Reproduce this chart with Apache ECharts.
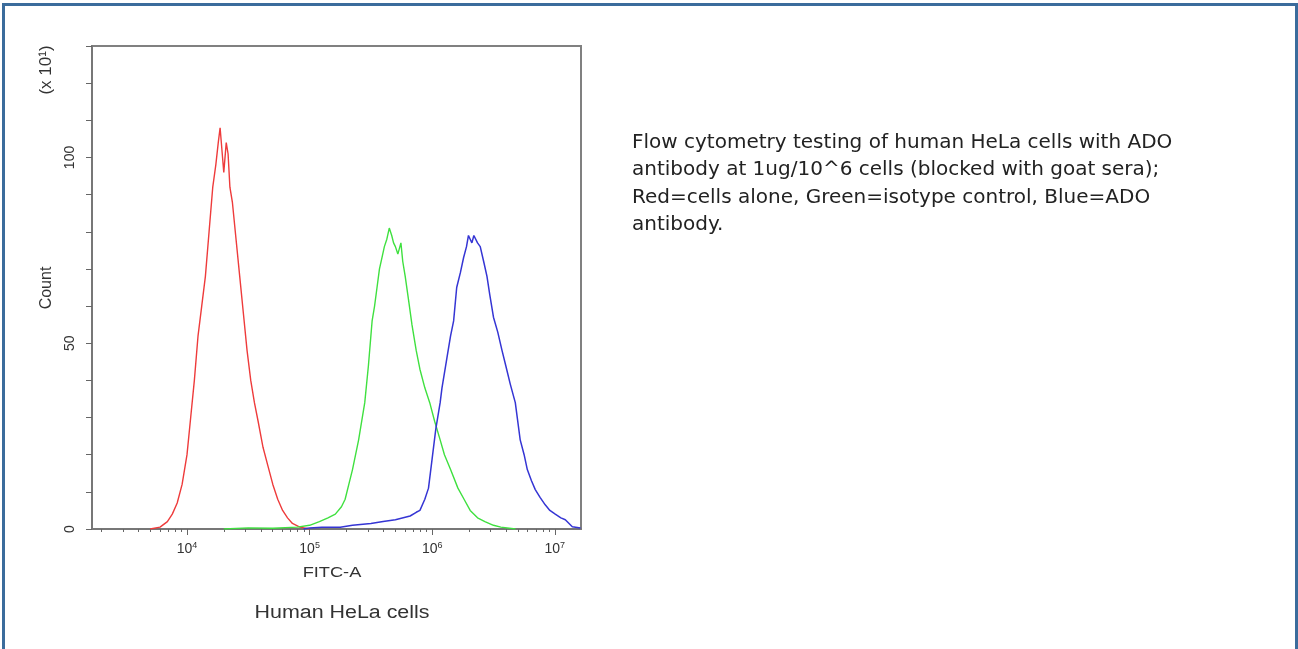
<!DOCTYPE html>
<html>
<head>
<meta charset="utf-8">
<script src="https://cdn.jsdelivr.net/npm/echarts@6/dist/echarts.min.js"></script>
<style>
  html, body { margin: 0; padding: 0; background: #fff; }
  #frame {
    position: absolute; left: 2px; top: 3px; width: 1290px; height: 660px;
    border: 3px solid #3b6c9c; border-bottom: none;
  }
  #chart { position: absolute; left: 0; top: 0; width: 1298px; height: 649px; }
</style>
</head>
<body>
<div id="frame"></div>
<div id="chart"></div>
<script>
  // x values are log10(FITC-A), y values are counts (x10^1)
  var redPoints = [
    [3.70, 0], [3.78, 0.5], [3.84, 2], [3.88, 4], [3.92, 7], [3.96, 12], [4.00, 20],
    [4.03, 30], [4.06, 40], [4.09, 52], [4.12, 60], [4.15, 68], [4.18, 80], [4.21, 92],
    [4.235, 98], [4.255, 104], [4.27, 108], [4.29, 100], [4.30, 96], [4.32, 104],
    [4.335, 101], [4.35, 92], [4.37, 88], [4.40, 78], [4.43, 68], [4.46, 58], [4.49, 48],
    [4.52, 40], [4.55, 34], [4.58, 29], [4.62, 22], [4.66, 17], [4.70, 12], [4.74, 8],
    [4.78, 5], [4.82, 3], [4.86, 1.5], [4.92, 0.5], [5.00, 0]
  ]
  var greenPoints = [
    [4.30, 0], [4.50, 0.3], [4.70, 0.2], [4.90, 0.5], [5.00, 1], [5.08, 2], [5.15, 3],
    [5.21, 4], [5.26, 6], [5.29, 8], [5.32, 12], [5.35, 16], [5.40, 24], [5.45, 34],
    [5.48, 44], [5.51, 56], [5.53, 60], [5.55, 65], [5.57, 70], [5.59, 73], [5.61, 76],
    [5.63, 78], [5.65, 81], [5.67, 79], [5.685, 77], [5.70, 76], [5.72, 74], [5.745, 77],
    [5.76, 72], [5.78, 68], [5.81, 61], [5.835, 55], [5.87, 48], [5.90, 43], [5.94, 38],
    [5.98, 34], [6.02, 29], [6.065, 24], [6.10, 20], [6.15, 16], [6.21, 11], [6.26, 8],
    [6.31, 5], [6.37, 3], [6.43, 2], [6.50, 1], [6.56, 0.5], [6.68, 0]
  ]
  var bluePoints = [
    [4.95, 0], [5.00, 0.3], [5.10, 0.5], [5.25, 0.5], [5.35, 1], [5.50, 1.5], [5.60, 2],
    [5.70, 2.5], [5.82, 3.5], [5.87, 4.5], [5.90, 5], [5.94, 8], [5.97, 11], [6.00, 19],
    [6.03, 27], [6.065, 34], [6.08, 38], [6.12, 46], [6.15, 52], [6.175, 56], [6.20, 65],
    [6.23, 69], [6.256, 73], [6.28, 76], [6.296, 79], [6.31, 78], [6.324, 77], [6.34, 79],
    [6.351, 79], [6.37, 77], [6.392, 76], [6.42, 72], [6.447, 68], [6.47, 63], [6.50, 57],
    [6.535, 53], [6.57, 48], [6.60, 44], [6.637, 39], [6.678, 34], [6.718, 24], [6.75, 20],
    [6.776, 16], [6.81, 13], [6.841, 10.6], [6.88, 8.5], [6.922, 6.5], [6.96, 5],
    [7.004, 4], [7.05, 3], [7.086, 2.5], [7.143, 0.6], [7.21, 0.3]
  ]
  var xDecades = [4, 5, 6, 7]
  var yLabels = [0, 50, 100]
  var caption = 'Flow cytometry testing of human HeLa cells with ADO\n' +
    'antibody at 1ug/10^6 cells (blocked with goat sera);\n' +
    'Red=cells alone, Green=isotype control, Blue=ADO\n' +
    'antibody.'

  var xMin = 3.225
  var xMax = 7.214
  var minorTicks = []
  for (var d = 3; d <= 7; d++) {
    for (var k = 2; k <= 9; k++) {
      var t = d + Math.log10(k)
      if (t > xMin && t < xMax) minorTicks.push(t)
    }
  }

  var font = 'Liberation Sans'
  var chart = echarts.init(document.getElementById('chart'))
  chart.setOption({
    animation: false,
    backgroundColor: 'transparent',
    grid: {
      left: 92, right: 717, top: 46, bottom: 120,
      show: true, borderColor: '#808080', borderWidth: 2
    },
    xAxis: [
      {
        type: 'value', min: xMin, max: xMax, position: 'bottom',
        axisLine: { lineStyle: { color: '#777', width: 2 } },
        axisTick: { customValues: xDecades, length: 6, lineStyle: { color: '#666' } },
        splitLine: { show: false },
        axisLabel: {
          customValues: xDecades, margin: 12, color: '#333',
          formatter: function (v) { return '{b|10}{s|' + v + '}' },
          rich: {
            b: { fontFamily: font, fontSize: 14, color: '#333' },
            s: { fontFamily: font, fontSize: 9, color: '#333', padding: [0, 0, 8, 0] }
          }
        }
      },
      {
        type: 'value', min: xMin, max: xMax, position: 'bottom', offset: 0,
        axisLine: { show: false },
        axisTick: { customValues: minorTicks, length: 3, lineStyle: { color: '#666' } },
        axisLabel: { show: false },
        splitLine: { show: false }
      }
    ],
    yAxis: {
      type: 'value', min: 0, max: 130, interval: 10,
      axisLine: { show: true, lineStyle: { color: '#777', width: 2 } },
      axisTick: { show: true, length: 6, lineStyle: { color: '#666' } },
      splitLine: { show: false },
      axisLabel: {
        rotate: 90, margin: 15, fontFamily: font, fontSize: 14, color: '#333',
        formatter: function (v) { return yLabels.indexOf(v) >= 0 ? String(v) : '' }
      }
    },
    series: [
      { type: 'line', xAxisIndex: 0, data: redPoints, showSymbol: false,
        lineStyle: { color: '#ee3b3b', width: 1.4 } },
      { type: 'line', xAxisIndex: 0, data: greenPoints, showSymbol: false,
        lineStyle: { color: '#3fe03f', width: 1.4 } },
      { type: 'line', xAxisIndex: 0, data: bluePoints, showSymbol: false,
        lineStyle: { color: '#3535d4', width: 1.5 } }
    ],
    graphic: [
      {
        type: 'text', x: 47, y: 288, rotation: Math.PI / 2,
        style: { text: 'Count', fontFamily: font, fontSize: 16, fill: '#333',
          align: 'center', verticalAlign: 'middle' }
      },
      {
        type: 'text', x: 46, y: 70, rotation: Math.PI / 2,
        style: { text: '(x 10\u00b9)', fontFamily: font, fontSize: 17, fill: '#333',
          align: 'center', verticalAlign: 'middle' }
      },
      {
        type: 'text', x: 332, y: 573, scaleX: 1.3,
        style: { text: 'FITC-A', fontFamily: font, fontSize: 14, fill: '#333',
          align: 'center', verticalAlign: 'middle' }
      },
      {
        type: 'text', x: 342, y: 613, scaleX: 1.19,
        style: { text: 'Human HeLa cells', fontFamily: font, fontSize: 18, fill: '#333',
          align: 'center', verticalAlign: 'middle' }
      },
      {
        type: 'text', x: 632, y: 129,
        style: { text: caption, fontFamily: 'DejaVu Sans', fontSize: 20, lineHeight: 27.5,
          fill: '#222', align: 'left', verticalAlign: 'top' }
      }
    ]
  })
</script>
</body>
</html>
